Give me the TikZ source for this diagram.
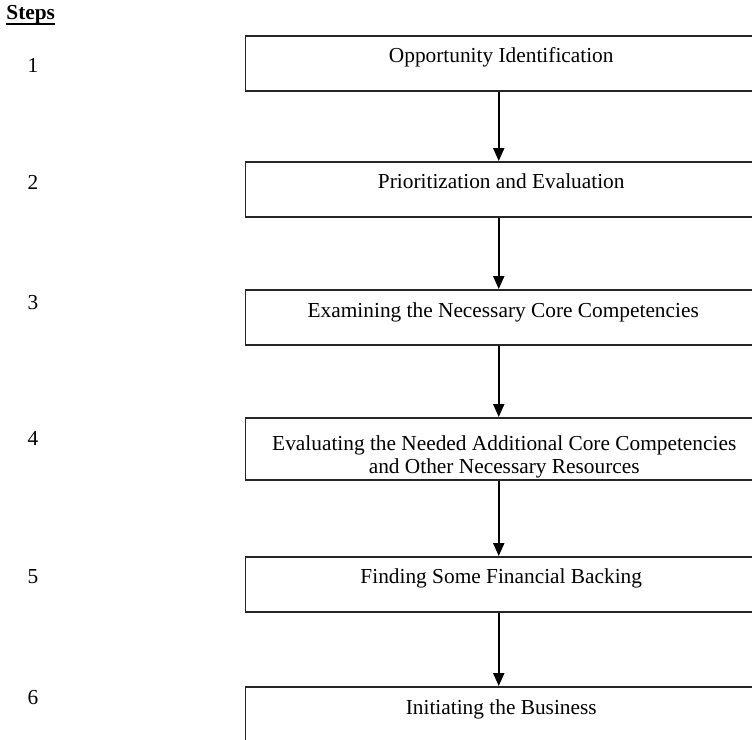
\documentclass[tikz,border=0pt]{standalone}
\usepackage{fontspec}
\setmainfont{Liberation Serif}
\usetikzlibrary{arrows.meta,calc}
\begin{document}
\begin{tikzpicture}[x=0.5pt,y=-0.5pt,
  stage/.style={draw=black!85, line width=0.75pt, rectangle, inner sep=0,
    minimum width=255pt, anchor=north west},
  stagetext/.style={anchor=base, inner sep=0,
    font=\fontsize{10.67}{11.35}\selectfont, align=center},
  stepnum/.style={anchor=base, inner sep=0, font=\fontsize{10.67}{12}\selectfont},
  flow/.style={line width=1pt, -{Triangle[width=5.5pt,length=6.5pt]}}]
\useasboundingbox (0,0) rectangle (752,740);
\clip (0,0) rectangle (752,740);

% heading
\node[anchor=base west, inner sep=0, font=\fontsize{10.67}{12}\selectfont\bfseries]
  (head) at (6,19) {Steps};
\draw[line width=0.9pt] ($(head.base west)+(0,5)$) -- ($(head.base east)+(0,5)$);

% step numbers
\node[stepnum] (n1) at (33,72) {1};
\node[stepnum] (n2) at (33,189) {2};
\node[stepnum] (n3) at (33,309) {3};
\node[stepnum] (n4) at (33,445) {4};
\node[stepnum] (n5) at (33,583) {5};
\node[stepnum] (n6) at (33,704) {6};

% stage boxes
\node[stage, minimum height=27.5pt] (b1) at (244.5,35) {};
\node[stage, minimum height=27.5pt] (b2) at (244.5,161) {};
\node[stage, minimum height=27.5pt] (b3) at (244.5,289) {};
\node[stage, minimum height=31pt]   (b4) at (244.5,417) {};
\node[stage, minimum height=27.5pt] (b5) at (244.5,556) {};
\node[stage, minimum height=28pt]   (b6) at (244.5,686) {};

% stage labels (base anchor sits on the last line)
\node[stagetext] (t1) at ($(b1.north)+(1,27)$) {Opportunity Identification};
\node[stagetext] (t2) at ($(b2.north)+(1,27)$) {Prioritization and Evaluation};
\node[stagetext] (t3) at ($(b3.north)+(3,28)$) {Examining the Necessary Core Competencies};
\node[stagetext] (t4) at ($(b4.north)+(4,56)$) {Evaluating the Needed Additional Core Competencies\\and Other Necessary Resources};
\node[stagetext] (t5) at ($(b5.north)+(1,27)$) {Finding Some Financial Backing};
\node[stagetext] (t6) at ($(b6.north)+(1,28)$) {Initiating the Business};

% connectors
\draw[flow] ($(b1.south)+(-1.5,0)$) -- ($(b2.north)+(-1.5,0)$);
\draw[flow] ($(b2.south)+(-1.5,0)$) -- ($(b3.north)+(-1.5,0)$);
\draw[flow] ($(b3.south)+(-1.5,0)$) -- ($(b4.north)+(-1.5,0)$);
\draw[flow] ($(b4.south)+(-1.5,0)$) -- ($(b5.north)+(-1.5,0)$);
\draw[flow] ($(b5.south)+(-1.5,0)$) -- ($(b6.north)+(-1.5,0)$);
\end{tikzpicture}
\end{document}
